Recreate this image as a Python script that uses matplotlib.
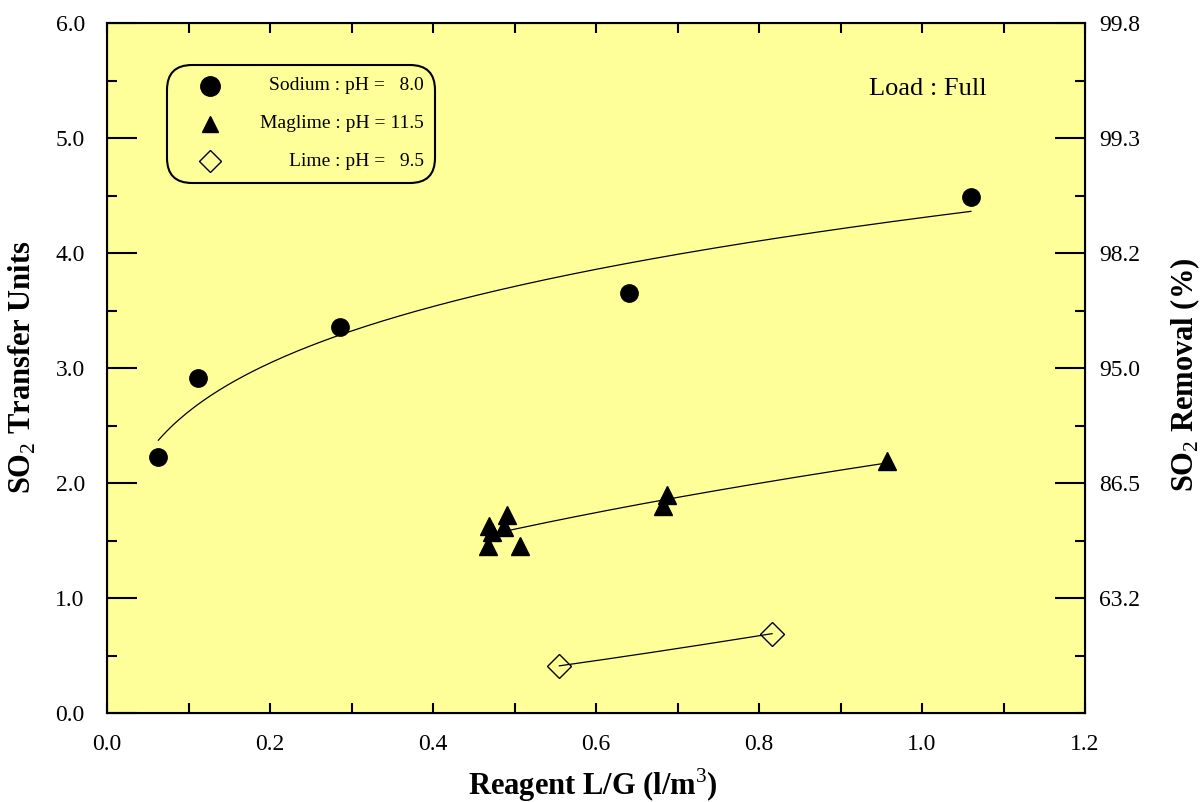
import numpy as np
import matplotlib.pyplot as plt
from matplotlib.patches import FancyBboxPatch
from matplotlib.ticker import MultipleLocator

plt.rcParams['font.family'] = ['Liberation Serif', 'DejaVu Serif']
plt.rcParams['mathtext.fontset'] = 'custom'
plt.rcParams['mathtext.rm'] = 'Liberation Serif'
plt.rcParams['mathtext.bf'] = 'Liberation Serif:bold'

# data
sodium_lg = [0.063, 0.112, 0.286, 0.640, 1.060]
sodium_ntu = [2.23, 2.91, 3.36, 3.65, 4.49]

maglime_lg = [0.469, 0.491, 0.472, 0.487, 0.467, 0.507, 0.687, 0.682, 0.957]
maglime_ntu = [1.63, 1.72, 1.57, 1.62, 1.45, 1.45, 1.90, 1.80, 2.19]

lime_lg = [0.555, 0.816]
lime_ntu = [0.41, 0.69]

left_ticks = [0, 1, 2, 3, 4, 5, 6]
removal_ticks = [1, 2, 3, 4, 5, 6]
removal_labels = ['63.2', '86.5', '95.0', '98.2', '99.3', '99.8']

legend_labels = ['Sodium : pH =   8.0', 'Maglime : pH = 11.5', 'Lime : pH =   9.5']

BG = '#ffff99'


def power_fit(x, y):
    # y = a * x^b fitted in log-log space
    b, ln_a = np.polyfit(np.log(x), np.log(y), 1)
    xs = np.linspace(min(x), max(x), 200)
    return xs, np.exp(ln_a) * xs ** b


fig = plt.figure(figsize=(12.01, 8.02), dpi=100)
ax = fig.add_axes([107 / 1201, 89 / 802, 978 / 1201, 690 / 802])
ax.set_facecolor(BG)

for xs, ys in [(sodium_lg, sodium_ntu), (maglime_lg, maglime_ntu), (lime_lg, lime_ntu)]:
    fx, fy = power_fit(xs, ys)
    ax.plot(fx, fy, color='black', lw=0.9, zorder=2)

ax.plot(sodium_lg, sodium_ntu, 'o', color='black', ms=12.5, ls='none', zorder=3)
ax.plot(maglime_lg, maglime_ntu, '^', color='black', ms=12.5, ls='none', zorder=3)
ax.plot(lime_lg, lime_ntu, 'D', mfc='none', mec='black', mew=1.0, ms=12, ls='none', zorder=3)

ax.set_xlim(0, 1.2)
ax.set_ylim(0, 6)
ax.xaxis.set_major_locator(MultipleLocator(0.2))
ax.xaxis.set_minor_locator(MultipleLocator(0.1))
ax.set_yticks(left_ticks)
ax.set_yticklabels([f'{v:.1f}' for v in left_ticks])
ax.set_xticklabels([f'{v:.1f}' for v in ax.get_xticks()])
ax.yaxis.set_minor_locator(MultipleLocator(0.5))

ax.tick_params(axis='both', which='both', direction='in', width=1.5, labelsize=17)
ax.tick_params(axis='x', which='both', top=True, length=7.5, pad=15)
ax.tick_params(axis='y', which='major', length=21.6, pad=16)
ax.tick_params(axis='y', which='minor', length=7.5)
for s in ax.spines.values():
    s.set_linewidth(1.5)

ax2 = ax.twinx()
ax2.set_ylim(0, 6)
ax2.set_yticks(removal_ticks)
ax2.set_yticklabels(removal_labels)
ax2.yaxis.set_minor_locator(MultipleLocator(0.5))
ax2.tick_params(axis='y', which='major', direction='in', length=21.6, width=1.5, labelsize=17, pad=10)
ax2.tick_params(axis='y', which='minor', direction='in', length=7.5, width=1.5)

ax.set_xlabel(r'Reagent L/G (l/m$^3$)', fontsize=22, fontweight='bold', va='center')
ax.xaxis.set_label_coords(0.497, -0.104)
ax.set_ylabel(r'SO$_2$ Transfer Units', fontsize=22, fontweight='bold', va='center')
ax.yaxis.set_label_coords(-0.086, 0.501)
ax2.set_ylabel(r'SO$_2$ Removal (%)', fontsize=22, fontweight='bold', va='center')
ax2.yaxis.set_label_coords(1.102, 0.49)

ax.text(0.839, 0.904, 'Load : Full', transform=ax.transAxes, fontsize=19,
        ha='center', va='center')

# legend box with rounded corners
box = FancyBboxPatch((1.67, 6.19), 2.68, 1.18, boxstyle='round,pad=0,rounding_size=0.25',
                     transform=fig.dpi_scale_trans, facecolor='none', edgecolor='black',
                     lw=1.5, clip_on=False, zorder=5)
ax.add_artist(box)
rows = [0.909, 0.854, 0.800]
legend_styles = [dict(marker='o', color='black', ms=14),
                 dict(marker='^', color='black', ms=12),
                 dict(marker='D', mfc='none', mec='black', mew=1.0, ms=11)]
for y, lab, st in zip(rows, legend_labels, legend_styles):
    ax.plot([0.105], [y], transform=ax.transAxes, ls='none', clip_on=False, zorder=6, **st)
    ax.text(0.324, y, lab, transform=ax.transAxes, fontsize=14, ha='right', va='center')

fig.savefig('out.png', dpi=100, facecolor='white')
